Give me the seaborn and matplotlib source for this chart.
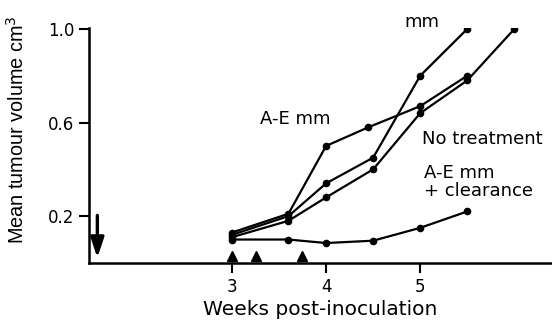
import pandas as pd
import numpy as np
import matplotlib
matplotlib.use("Agg")
import matplotlib.pyplot as plt
import seaborn as sn

# mean tumour volume (cm3) per week post-inoculation
weeks_ae = [3.0, 3.6, 4.0, 4.45, 5.0, 5.5]
vol_ae = [0.13, 0.21, 0.50, 0.58, 0.67, 0.80]

weeks_mm = [3.0, 3.6, 4.0, 4.5, 5.0, 5.5]
vol_mm = [0.12, 0.20, 0.34, 0.45, 0.80, 1.00]

weeks_none = [3.0, 3.6, 4.0, 4.5, 5.0, 5.5, 6.0]
vol_none = [0.11, 0.18, 0.28, 0.40, 0.64, 0.78, 1.00]

weeks_clear = [3.0, 3.6, 4.0, 4.5, 5.0, 5.5]
vol_clear = [0.10, 0.10, 0.085, 0.095, 0.15, 0.22]

treatment_weeks = [3.0, 3.26, 3.74]
inoculation_week = 1.57

series = {"A-E mm": (weeks_ae, vol_ae),
          "mm": (weeks_mm, vol_mm),
          "No treatment": (weeks_none, vol_none),
          "A-E mm + clearance": (weeks_clear, vol_clear)}

rows = []
for name, (w, v) in series.items():
    for x, y in zip(w, v):
        rows.append((name, x, y))
df = pd.DataFrame(rows, columns=["group", "week", "volume"])

sn.set_style("ticks")
plt.rcParams["font.family"] = ["DejaVu Sans"]
plt.rcParams["text.color"] = "black"
plt.rcParams["axes.labelcolor"] = "black"

fig = plt.figure(figsize=(5.52, 3.23), dpi=100)
ax = fig.add_axes([0.161, 0.186, 0.839, 0.728])

sn.lineplot(data=df, x="week", y="volume", units="group", estimator=None,
            color="black", lw=1.6, marker="o", markersize=5.5,
            markeredgewidth=0, ax=ax, legend=False)

ax.plot(treatment_weeks, [0.028] * len(treatment_weeks), "^", color="black",
        markersize=7.5, clip_on=False)
ax.annotate("", xy=(inoculation_week, 0.01), xytext=(inoculation_week, 0.215),
            arrowprops=dict(arrowstyle="-|>,head_width=0.4,head_length=1.2",
                            color="black", lw=2.4))

ax.set_xlim(1.48, 6.4)
ax.set_ylim(0, 1.005)
ax.set_xticks([3, 4, 5])
ax.set_yticks([0.2, 0.6, 1.0])
ax.set_yticklabels(["0.2", "0.6", "1.0"])
ax.tick_params(labelsize=12, length=7, width=1.5, colors="black")
ax.tick_params(axis="x", pad=4)
for s in ["top", "right"]:
    ax.spines[s].set_visible(False)
for s in ["left", "bottom"]:
    ax.spines[s].set_linewidth(1.8)
    ax.spines[s].set_color("black")

ax.set_xlabel("Weeks post-inoculation", fontsize=14.5, labelpad=3)
ax.set_ylabel("Mean tumour volume cm$^3$", fontsize=14.3,
              family="Liberation Sans")
ax.yaxis.set_label_coords(-0.131, 0.566)

ax.text(5.02, 1.03, "mm", fontsize=13, ha="center", va="center")
ax.text(3.67, 0.617, "A-E mm", fontsize=13, ha="center", va="center")
ax.text(5.66, 0.53, "No treatment", fontsize=13, ha="center", va="center")
ax.text(5.04, 0.345, "A-E mm\n+ clearance", fontsize=13, ha="left",
        va="center", linespacing=1.0)

plt.savefig("out.png", dpi=100)
plt.close()
